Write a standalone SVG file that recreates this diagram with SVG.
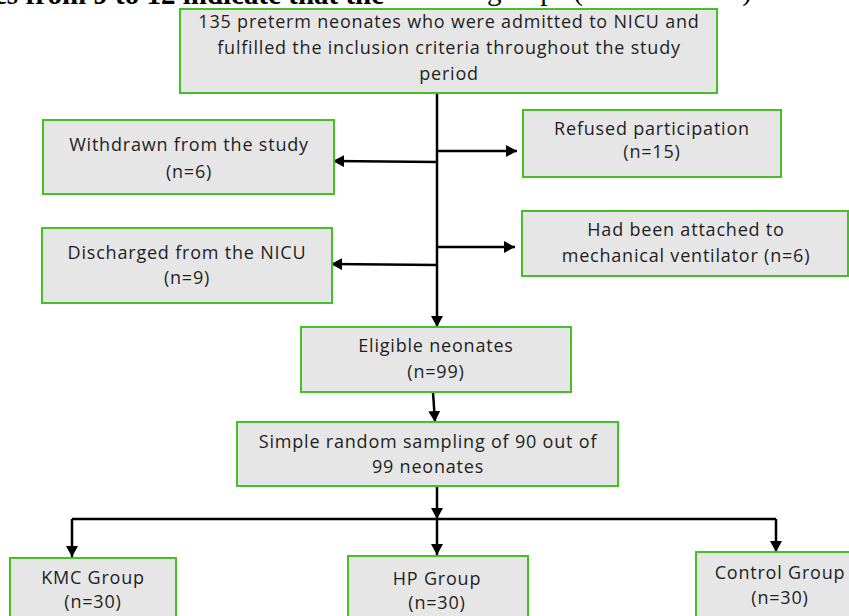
<svg xmlns="http://www.w3.org/2000/svg" width="849" height="616" viewBox="0 0 849 616">
<defs>
<style>
.box{fill:#e6e6e6;stroke:#44c124;stroke-width:2}
.t{font-family:"Open Sans","Noto Sans",sans-serif;font-size:18px;letter-spacing:0.8px;fill:#1e1e1e;text-anchor:middle}
.c{stroke:#000;stroke-width:2.5;fill:none}
.pg{font-family:"Liberation Serif","Times New Roman",serif;font-size:29px;fill:#000}
</style>
<marker id="ah" markerUnits="userSpaceOnUse" markerWidth="12" markerHeight="12" refX="11" refY="6" orient="auto">
<path d="M0,0 L11,6 L0,12 z" fill="#000"/>
</marker>
</defs>
<rect width="849" height="616" fill="#fff"/>
<text class="pg" x="-6" y="4" font-weight="bold">es from 9 to 12 indicate that the</text>
<text class="pg" x="487" y="0">groups (KMC and HP)</text>
<g id="connectors">
<line class="c" x1="437" y1="93" x2="437" y2="327" marker-end="url(#ah)"/>
<line class="c" x1="437" y1="162" x2="333" y2="161" marker-end="url(#ah)"/>
<line class="c" x1="437" y1="151" x2="517" y2="151" marker-end="url(#ah)"/>
<line class="c" x1="437" y1="247" x2="515" y2="247" marker-end="url(#ah)"/>
<line class="c" x1="437" y1="265" x2="331" y2="264" marker-end="url(#ah)"/>
<line class="c" x1="433" y1="392" x2="435" y2="422" marker-end="url(#ah)"/>
<line class="c" x1="437" y1="486" x2="437" y2="519" marker-end="url(#ah)"/>
<line class="c" x1="72" y1="519" x2="776" y2="519"/>
<line class="c" x1="72" y1="519" x2="72" y2="557" marker-end="url(#ah)"/>
<line class="c" x1="437" y1="519" x2="437" y2="555" marker-end="url(#ah)"/>
<line class="c" x1="776" y1="519" x2="776" y2="552" marker-end="url(#ah)"/>
</g>
<g id="n-start">
<rect class="box" x="180" y="9" width="537" height="84"/>
<text class="t" x="449" y="28">135 preterm neonates who were admitted to NICU and</text>
<text class="t" x="449" y="54">fulfilled the inclusion criteria throughout the study</text>
<text class="t" x="449" y="80">period</text>
</g>
<g id="n-withdrawn">
<rect class="box" x="43" y="120" width="291" height="74"/>
<text class="t" x="189" y="151">Withdrawn from the study</text>
<text class="t" x="189" y="178">(n=6)</text>
</g>
<g id="n-refused">
<rect class="box" x="523" y="110" width="258" height="67"/>
<text class="t" x="652" y="135">Refused participation</text>
<text class="t" x="652" y="158">(n=15)</text>
</g>
<g id="n-discharged">
<rect class="box" x="42" y="228" width="290" height="75"/>
<text class="t" x="187" y="259">Discharged from the NICU</text>
<text class="t" x="187" y="284">(n=9)</text>
</g>
<g id="n-ventilator">
<rect class="box" x="522" y="211" width="326" height="65"/>
<text class="t" x="686" y="236">Had been attached to</text>
<text class="t" x="686" y="262">mechanical ventilator (n=6)</text>
</g>
<g id="n-eligible">
<rect class="box" x="301" y="327" width="270" height="65"/>
<text class="t" x="436" y="352">Eligible neonates</text>
<text class="t" x="436" y="378">(n=99)</text>
</g>
<g id="n-sampling">
<rect class="box" x="237" y="422" width="381" height="64"/>
<text class="t" x="428" y="448">Simple random sampling of 90 out of</text>
<text class="t" x="428" y="473">99 neonates</text>
</g>
<g id="n-kmc">
<rect class="box" x="10" y="558" width="166" height="70"/>
<text class="t" x="93" y="584">KMC Group</text>
<text class="t" x="93" y="608">(n=30)</text>
</g>
<g id="n-hp">
<rect class="box" x="348" y="556" width="180" height="72"/>
<text class="t" x="437" y="585">HP Group</text>
<text class="t" x="437" y="609">(n=30)</text>
</g>
<g id="n-control">
<rect class="box" x="696" y="552" width="160" height="76"/>
<text class="t" x="780" y="579">Control Group</text>
<text class="t" x="780" y="604">(n=30)</text>
</g>
</svg>
